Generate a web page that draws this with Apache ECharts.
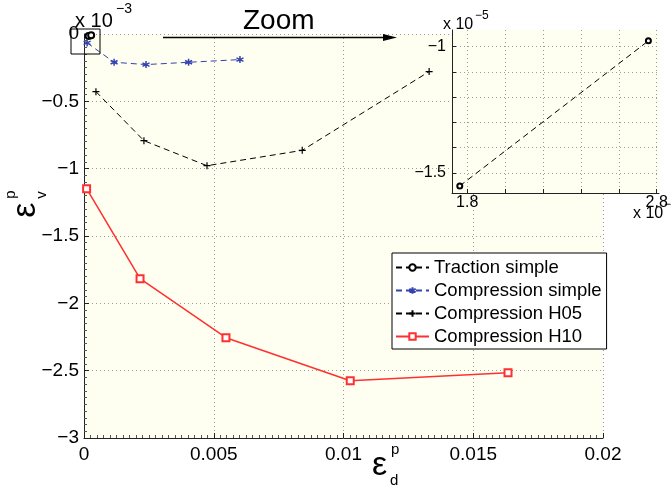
<!DOCTYPE html>
<html><head><meta charset="utf-8">
<script src="https://cdn.jsdelivr.net/npm/echarts@6/dist/echarts.min.js"></script>
<style>html,body{margin:0;padding:0;background:#fff}#c{width:671px;height:494px}</style>
</head><body><div id="c"></div>
<script>
// Main axes: x = eps_d^p, y = eps_v^p in units of 1e-3 (as on the axis)
const tractionX = [1.761e-4, 2.756e-4];      // raw values
const tractionY = [-1.552e-5, -0.977e-5];    // raw values
const compSimpleX = [0.00012, 0.00116, 0.00239, 0.00403, 0.00601];
const compSimpleY = [-0.066, -0.21, -0.227, -0.21, -0.19];
const h05X = [0.00046, 0.00231, 0.00474, 0.00841, 0.0133];
const h05Y = [-0.428, -0.792, -0.978, -0.864, -0.279];
const h10X = [0.0001, 0.00216, 0.00547, 0.01026, 0.01634];
const h10Y = [-1.149, -1.817, -2.255, -2.575, -2.515];
const seriesNames = ['Traction simple', 'Compression simple', 'Compression H05', 'Compression H10'];
const mainXTicks = [0, 0.005, 0.01, 0.015, 0.02];
const mainYTicks = [-3, -2.5, -2, -1.5, -1, -0.5, 0];
const insetXTicks = [1.8, 2.0, 2.2, 2.4, 2.6, 2.8];   // x 1e-4
const insetXLabels = [1.8, 2.8];
const insetYTicks = [-1.5, -1.4, -1.3, -1.2, -1.1, -1.0]; // x 1e-5
const insetYLabels = [-1.5, -1];

const FONT = '"Liberation Sans", Arial, Helvetica, sans-serif';
const zip = (xs, ys) => xs.map((x, i) => [x, ys[i]]);
const minus = s => String(s).replace('-', '\u2212');
const mainTraction = zip(tractionX, tractionY.map(v => v / 1e-3));
const insetTraction = zip(tractionX.map(v => +(v / 1e-4).toFixed(4)), tractionY.map(v => +(v / 1e-5).toFixed(4)));

const asterisk = 'path://M5 0 L5 10 M0.67 2.5 L9.33 7.5 M0.67 7.5 L9.33 2.5';
const plus = 'path://M5 0 L5 10 M0 5 L10 5';
const dotted = { color: '#9a9a9a', width: 1, type: [1, 3] };
const axisLineStyle = { color: '#222', width: 1 };

const chart = echarts.init(document.getElementById('c'), null, { renderer: 'canvas' });
chart.setOption({
  animation: false,
  backgroundColor: '#fff',
  textStyle: { fontFamily: FONT },
  grid: [
    { left: 84, top: 34, width: 519, height: 404, show: true, backgroundColor: '#fefef1', borderWidth: 0 },
    { left: 452, top: 30, width: 207, height: 163, show: true, backgroundColor: '#fefef1', borderWidth: 0, z: 10 }
  ],
  xAxis: [
    {
      type: 'value', gridIndex: 0, min: mainXTicks[0], max: mainXTicks[mainXTicks.length - 1], interval: 0.005,
      axisLine: { onZero: false, lineStyle: axisLineStyle },
      axisTick: { inside: true, length: 5, lineStyle: axisLineStyle },
      minorTick: { show: true, splitNumber: 20, length: 3, lineStyle: { color: '#555' } },
      splitLine: { show: true, lineStyle: dotted },
      axisLabel: { fontSize: 19, color: '#000', margin: 7, fontFamily: FONT, formatter: v => String(+v.toFixed(4)) }
    },
    {
      type: 'value', gridIndex: 1, min: 1.72, max: 2.812, z: 11,
      axisLine: { onZero: false, lineStyle: axisLineStyle },
      axisTick: { inside: true, length: 4, lineStyle: axisLineStyle, customValues: insetXTicks },
      splitLine: { show: true, lineStyle: dotted },
      axisLabel: { fontSize: 16, color: '#000', margin: 2, fontFamily: FONT, customValues: insetXLabels, formatter: v => v.toFixed(1) }
    }
  ],
  yAxis: [
    {
      type: 'value', gridIndex: 0, min: mainYTicks[0], max: mainYTicks[mainYTicks.length - 1], interval: 0.5,
      axisLine: { show: true, onZero: false, lineStyle: axisLineStyle },
      axisTick: { show: true, inside: true, length: 5, lineStyle: axisLineStyle },
      minorTick: { show: true, splitNumber: 10, length: 3, lineStyle: { color: '#555' } },
      splitLine: { show: true, lineStyle: dotted },
      axisLabel: { fontSize: 19, color: '#000', margin: 5, fontFamily: FONT, formatter: v => minus(+v.toFixed(2)) }
    },
    {
      type: 'value', gridIndex: 1, min: -1.58, max: -0.934, z: 11,
      axisLine: { show: true, onZero: false, lineStyle: axisLineStyle },
      axisTick: { show: true, inside: true, length: 4, lineStyle: axisLineStyle, customValues: insetYTicks },
      splitLine: { show: true, lineStyle: dotted },
      axisLabel: { fontSize: 16, color: '#000', margin: 6, fontFamily: FONT, customValues: insetYLabels, formatter: v => minus(+v.toFixed(1)) }
    }
  ],
  legend: {
    orient: 'vertical', left: 392, top: 253, padding: [5, 5, 3, 3], itemGap: 4,
    itemWidth: 33, itemHeight: 8, backgroundColor: '#fff', borderColor: '#000', borderWidth: 1,
    textStyle: { fontSize: 18.5, color: '#000', fontFamily: FONT, lineHeight: 18 },
    data: seriesNames, z: 20
  },
  series: [
    {
      name: seriesNames[0], type: 'line', xAxisIndex: 0, yAxisIndex: 0, data: mainTraction,
      symbol: 'emptyCircle', symbolSize: 6, showAllSymbol: true,
      lineStyle: { color: '#000', width: 1, type: [6, 4] }, itemStyle: { color: '#000', borderWidth: 1 }
    },
    {
      name: seriesNames[1], type: 'line', xAxisIndex: 0, yAxisIndex: 0, data: zip(compSimpleX, compSimpleY),
      symbol: asterisk, symbolSize: 7,
      lineStyle: { color: '#3344b0', width: 1, type: [6, 4] },
      itemStyle: { color: '#3344b0', borderColor: '#3344b0', borderWidth: 1.5 }
    },
    {
      name: seriesNames[2], type: 'line', xAxisIndex: 0, yAxisIndex: 0, data: zip(h05X, h05Y),
      symbol: plus, symbolSize: 7,
      lineStyle: { color: '#000', width: 1, type: [6, 4] },
      itemStyle: { color: '#000', borderColor: '#000', borderWidth: 1.2 }
    },
    {
      name: seriesNames[3], type: 'line', xAxisIndex: 0, yAxisIndex: 0, data: zip(h10X, h10Y),
      symbol: 'emptyRect', symbolSize: 7,
      lineStyle: { color: '#ff3030', width: 1.5 },
      itemStyle: { color: '#ff3030', borderWidth: 1.2 }
    },
    {
      name: 'Traction simple (zoom)', type: 'line', xAxisIndex: 1, yAxisIndex: 1, data: insetTraction, z: 12,
      symbol: 'emptyCircle', symbolSize: 5,
      lineStyle: { color: '#000', width: 1, type: [6, 4] }, itemStyle: { color: '#000', borderWidth: 1 }
    }
  ],
  graphic: [
    { type: 'rect', z: 20, shape: { x: 71, y: 29, width: 29, height: 25 }, style: { fill: 'none', stroke: '#000', lineWidth: 1 } },
    { type: 'line', z: 20, shape: { x1: 163, y1: 37.5, x2: 390, y2: 37.5 }, style: { stroke: '#000', lineWidth: 1.5 } },
    { type: 'polygon', z: 20, shape: { points: [[397, 37.5], [383, 34], [383, 41]] }, style: { fill: '#000' } },
    { type: 'text', z: 20, x: 243, y: 7.7, style: { text: 'Zoom', font: '28px ' + FONT, fill: '#000', verticalAlign: 'top' } },
    { type: 'text', z: 20, x: 75, y: 11, style: { text: 'x 10', font: '20px ' + FONT, fill: '#000', verticalAlign: 'top' } },
    { type: 'text', z: 20, x: 116, y: 2.5, style: { text: '\u22123', font: '14px ' + FONT, fill: '#000', verticalAlign: 'top' } },
    { type: 'text', z: 20, x: 443, y: 17, style: { text: 'x 10', font: '16px ' + FONT, fill: '#000', verticalAlign: 'top' } },
    { type: 'text', z: 20, x: 475, y: 9.5, style: { text: '\u22125', font: '12px ' + FONT, fill: '#000', verticalAlign: 'top' } },
    { type: 'text', z: 20, x: 633, y: 206, style: { text: 'x 10', font: '16px ' + FONT, fill: '#000', verticalAlign: 'top' } },
    { type: 'text', z: 20, x: 664, y: 199, style: { text: '\u22124', font: '12px ' + FONT, fill: '#000', verticalAlign: 'top' } },
    // x-axis title
    { type: 'text', z: 20, x: 372, y: 449, style: { text: '\u03b5', font: '34px ' + FONT, fill: '#000', verticalAlign: 'top' } },
    { type: 'text', z: 20, x: 391, y: 442, style: { text: 'p', font: '15px ' + FONT, fill: '#000', verticalAlign: 'top' } },
    { type: 'text', z: 20, x: 390, y: 473, style: { text: 'd', font: '15px ' + FONT, fill: '#000', verticalAlign: 'top' } },
    // y-axis title (rotated)
    {
      type: 'group', z: 20, x: 8.6, y: 217.7, rotation: Math.PI / 2,
      children: [
        { type: 'text', z: 20, x: 0, y: 0, style: { text: '\u03b5', font: '34px ' + FONT, fill: '#000', verticalAlign: 'top' } },
        { type: 'text', z: 20, x: 19, y: -5, style: { text: 'p', font: '15px ' + FONT, fill: '#000', verticalAlign: 'top' } },
        { type: 'text', z: 20, x: 19, y: 25.4, style: { text: 'v', font: '15px ' + FONT, fill: '#000', verticalAlign: 'top' } }
      ]
    }
  ]
});
</script></body></html>
